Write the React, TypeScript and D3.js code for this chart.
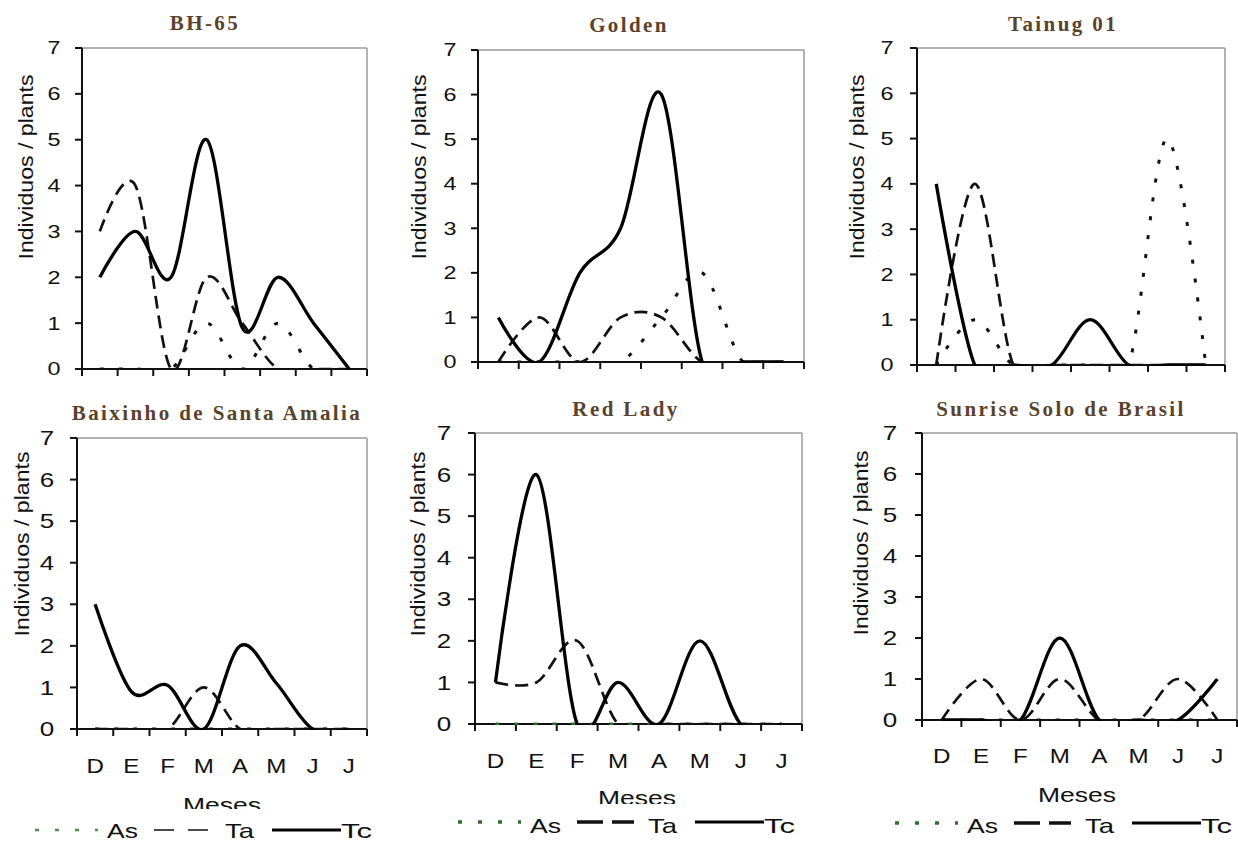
import React from "react";
import * as d3 from "d3";

const months = ["D", "E", "F", "M", "A", "M", "J", "J"];
const yTicks = [0, 1, 2, 3, 4, 5, 6, 7];
const titles = [
  "BH-65",
  "Golden",
  "Tainug 01",
  "Baixinho de Santa Amalia",
  "Red Lady",
  "Sunrise Solo de Brasil",
];
const seriesNames = ["As", "Ta", "Tc"];

const asValues = [
  [0, 0, 0, 1, 0, 1, 0, 0],
  [0, 0, 0, 0, 1, 2, 0, 0],
  [0, 1, 0, 0, 0, 0, 5, 0],
  [0, 0, 0, 0, 0, 0, 0, 0],
  [0, 0, 0, 0, 0, 0, 0, 0],
  [0, 0, 0, 0, 0, 0, 0, 0],
];
const taValues = [
  [3, 4, 0, 2, 1, 0, 0, 0],
  [0, 1, 0, 1, 1, 0, 0, 0],
  [0, 4, 0, 0, 0, 0, 0, 0],
  [0, 0, 0, 1, 0, 0, 0, 0],
  [1, 1, 2, 0, 0, 0, 0, 0],
  [0, 1, 0, 1, 0, 0, 1, 0],
];
const tcValues = [
  [2, 3, 2, 5, 0.9, 2, 1, 0],
  [1, 0, 2, 3, 6, 0, 0, 0],
  [4, 0, 0, 0, 1, 0, 0, 0],
  [3, 0.9, 1.05, 0, 2, 1.1, 0, 0],
  [1, 6, 0, 1, 0, 2, 0, 0],
  [0, 0, 0, 2, 0, 0, 0, 1],
];

// layout (pixel positions) per panel
const panels = [
  { x0: 82, x1: 367, y0: 48, y1: 369, tx: 205, ty: 30, ytf: 18, ytx: 54, ylx: 26, yly: 167, asColor: "#111" },
  { x0: 478, x1: 804, y0: 50, y1: 362, tx: 629, ty: 32, ytf: 18, ytx: 450, ylx: 419, yly: 167, asColor: "#111" },
  { x0: 917, x1: 1225, y0: 48, y1: 365, tx: 1063, ty: 31, ytf: 18, ytx: 887, ylx: 857, yly: 167, asColor: "#111" },
  { x0: 77, x1: 367, y0: 438, y1: 729, tx: 217, ty: 420, ytf: 20, ytx: 47, ylx: 22, yly: 544, asColor: "#111",
    xl: 773, mx: 222, my: 812, lx: 35, ly: 830, lb: 838, cut: 809, thin: true },
  { x0: 475, x1: 802, y0: 433, y1: 724, tx: 626, ty: 416, ytf: 20, ytx: 444, ylx: 418, yly: 544, asColor: "#2f6e2f",
    xl: 768, mx: 637, my: 805, lx: 458, ly: 822, lb: 833, cut: 804, thin: false },
  { x0: 922, x1: 1237, y0: 433, y1: 720, tx: 1061, ty: 416, ytf: 20, ytx: 890, ylx: 861, yly: 543, asColor: "#111",
    xl: 763, mx: 1077, my: 802, lx: 895, ly: 823, lb: 833, cut: 0, thin: false },
];

const SANS = "'Liberation Sans', Arial, sans-serif";
const SERIF = "'Liberation Serif', 'Times New Roman', serif";

function Panel({ p, i }: { p: any; i: number }) {
  const idx = months.map((_, k) => String(k));
  const band = d3.scaleBand<string>().domain(idx).range([p.x0, p.x1]);
  const x = d3.scalePoint<string>().domain(idx).range([p.x0, p.x1]).padding(0.5);
  const y = d3.scaleLinear().domain([0, 7]).range([p.y1, p.y0]);
  const line = d3
    .line<number>()
    .x((_, k) => x(String(k)) as number)
    .y((d) => y(d))
    .curve(d3.curveCardinal.tension(0));
  const bounds = [...idx.map((k) => band(k) as number), p.x1];
  const clipId = `clip${i}`;
  const series = [asValues[i], taValues[i], tcValues[i]];
  const styles = [
    { stroke: p.asColor, width: 3, dash: "4,15" },
    { stroke: "#111", width: 2.7, dash: "13,7" },
    { stroke: "#000", width: 3.3, dash: "none" },
  ];
  const hasX = p.xl !== undefined;
  return (
    <g>
      <defs>
        <clipPath id={clipId}>
          <rect x={p.x0} y={p.y0 - 2} width={p.x1 - p.x0} height={p.y1 - p.y0 + 3} />
        </clipPath>
      </defs>
      <text x={p.tx} y={p.ty} textAnchor="middle" fontFamily={SERIF} fontWeight="bold" fontSize={21}
        letterSpacing={2.4} fill="#5a432c">{titles[i]}</text>
      {/* frame */}
      <line x1={p.x0} x2={p.x1} y1={p.y0} y2={p.y0} stroke="#9a9a9a" strokeWidth={1.5} />
      <line x1={p.x1} x2={p.x1} y1={p.y0} y2={p.y1} stroke="#9a9a9a" strokeWidth={1.5} />
      <line x1={p.x0} x2={p.x0} y1={p.y0} y2={p.y1} stroke="#111" strokeWidth={2} />
      <line x1={p.x0 - 7} x2={p.x1} y1={p.y1} y2={p.y1} stroke="#111" strokeWidth={2} />
      {yTicks.map((t) => (
        <g key={t}>
          <line x1={p.x0 - 7} x2={p.x0} y1={y(t)} y2={y(t)} stroke="#111" strokeWidth={2} />
          <text transform={`translate(${p.ytx},${y(t)}) scale(1.3,1)`} textAnchor="middle" dy="0.36em"
            fontFamily={SANS} fontSize={p.ytf} fill="#111">{t}</text>
        </g>
      ))}
      {bounds.map((b, k) => (
        <line key={k} x1={b} x2={b} y1={p.y1} y2={p.y1 + 7} stroke="#111" strokeWidth={2} />
      ))}
      <text transform={`translate(${p.ylx},${p.yly}) rotate(-90)`} textAnchor="middle" dy="0.36em"
        fontFamily={SANS} fontSize={20} textLength={185} lengthAdjust="spacingAndGlyphs" fill="#111">
        Individuos / plants
      </text>
      <g clipPath={`url(#${clipId})`}>
        {series.map((vals, s) => (
          <path key={s} d={line(vals) as string} fill="none" stroke={styles[s].stroke}
            strokeWidth={styles[s].width} strokeDasharray={styles[s].dash} strokeLinejoin="round" />
        ))}
      </g>
      {hasX && (
        <g>
          {months.map((m, k) => (
            <text key={k} transform={`translate(${x(String(k))},${p.xl}) scale(1.15,1)`} textAnchor="middle"
              fontFamily={SANS} fontSize={21} fill="#111">{m}</text>
          ))}
          <text x={p.mx} y={p.my} textAnchor="middle" fontFamily={SANS} fontSize={21} textLength={78}
            lengthAdjust="spacingAndGlyphs" fill="#111">Meses</text>
          {p.cut > 0 && <rect x={p.lx - 10} y={p.cut} width={360} height={841 - p.cut} fill="#fff" />}
          {/* legend */}
          <line x1={p.lx} x2={p.lx + 63} y1={p.ly} y2={p.ly} stroke={p.thin ? "#4f8f4f" : "#2f6e2f"}
            strokeWidth={p.thin ? 2.5 : 3.5} strokeDasharray="4,16" />
          <text x={p.lx + 72} y={p.lb} fontFamily={SANS} fontSize={21} textLength={31}
            lengthAdjust="spacingAndGlyphs" fill="#111">{seriesNames[0]}</text>
          <line x1={p.lx + 119} x2={p.lx + 176} y1={p.ly} y2={p.ly} stroke="#111"
            strokeWidth={p.thin ? 1.6 : 3.5} strokeDasharray={p.thin ? "20,14" : "26,9"} />
          <text x={p.lx + 190} y={p.lb} fontFamily={SANS} fontSize={21} textLength={29}
            lengthAdjust="spacingAndGlyphs" fill="#111">{seriesNames[1]}</text>
          <line x1={p.lx + 237} x2={p.lx + 306} y1={p.ly} y2={p.ly} stroke="#000" strokeWidth={3} />
          <text x={p.lx + 306} y={p.lb} fontFamily={SANS} fontSize={21} textLength={31}
            lengthAdjust="spacingAndGlyphs" fill="#111">{seriesNames[2]}</text>
        </g>
      )}
    </g>
  );
}

export default function App() {
  return (
    <svg width={1238} height={841} style={{ position: "absolute", left: 0, top: 0, background: "#fff" }}>
      <rect width={1238} height={841} fill="#fff" />
      {panels.map((p, i) => (
        <Panel key={i} p={p} i={i} />
      ))}
    </svg>
  );
}
